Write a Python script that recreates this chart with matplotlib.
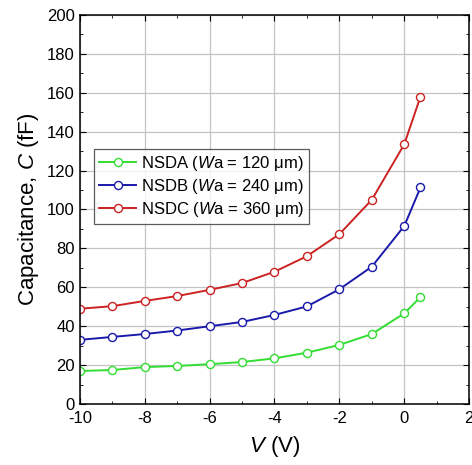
import numpy as np
import matplotlib.pyplot as plt

plt.rcParams['font.family'] = ['Liberation Sans', 'DejaVu Sans']
plt.rcParams['mathtext.fontset'] = 'custom'
plt.rcParams['mathtext.it'] = 'Liberation Sans:italic'
plt.rcParams['mathtext.rm'] = 'Liberation Sans'
plt.rcParams['axes.unicode_minus'] = False

# Bias voltage (V)
voltage = [-10, -9, -8, -7, -6, -5, -4, -3, -2, -1, 0, 0.5]

# Capacitance (fF) for each device
cap_nsda = [17, 17.5, 19, 19.6, 20.5, 21.6, 23.5, 26.4, 30.4, 36, 46.6, 55]
cap_nsdb = [33, 34.5, 36, 37.8, 40, 42.2, 45.8, 50.2, 59, 70.6, 91.5, 111.3]
cap_nsdc = [49, 50.3, 53, 55.5, 58.7, 62.2, 68, 76, 87.3, 105, 133.5, 158]

labels = [r'NSDA ($W$a = 120 μm)', r'NSDB ($W$a = 240 μm)', r'NSDC ($W$a = 360 μm)']
colors = ['#33dd33', '#1a1aaa', '#cc2222']

fig = plt.figure(figsize=(4.72, 4.65), dpi=100)
ax = fig.add_axes([0.169, 0.131, 0.825, 0.837])

for ys, lab, c in zip([cap_nsda, cap_nsdb, cap_nsdc], labels, colors):
    ax.plot(voltage, ys, '-o', color=c, lw=1.4, ms=5.8, mfc='white', mec=c,
            mew=1.0, label=lab)

ax.set_xlim(-10, 2)
ax.set_ylim(0, 200)
ax.set_xticks(np.arange(-10, 3, 2))
ax.set_yticks(np.arange(0, 201, 20))
ax.set_xticks(np.arange(-9, 2, 2), minor=True)
ax.set_yticks(np.arange(10, 200, 20), minor=True)
ax.tick_params(which='both', direction='in', top=True, right=True, labelsize=12)
ax.tick_params(which='major', length=4)
ax.tick_params(which='minor', length=2.5)
ax.tick_params(axis='x', pad=5)
ax.grid(True, which='major', color='#c4c4c4', lw=0.9)
ax.set_axisbelow(True)
for s in ax.spines.values():
    s.set_linewidth(1.1)

ax.set_xlabel(r'$V$ (V)', fontsize=16, labelpad=6)
ax.set_ylabel(r'Capacitance, $C$ (fF)', fontsize=16, labelpad=4)

leg = ax.legend(loc='lower left', bbox_to_anchor=(0.037, 0.462), fontsize=12,
                frameon=True, fancybox=False, edgecolor='#333333',
                handlelength=2.2, handletextpad=0.3, borderpad=0.3,
                labelspacing=0.25, borderaxespad=0)
leg.get_frame().set_linewidth(0.9)

fig.savefig('out.png', dpi=100)
